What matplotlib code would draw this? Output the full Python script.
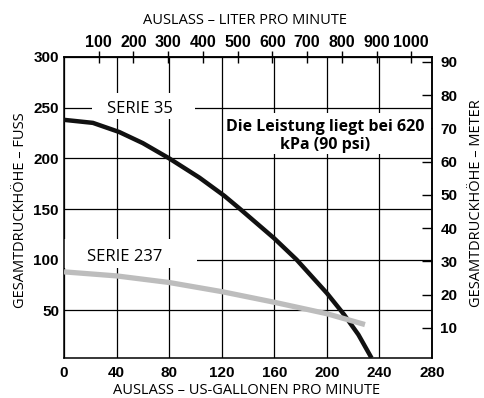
import matplotlib
matplotlib.use('Agg')
import matplotlib.pyplot as plt
from matplotlib.patches import Rectangle

# Pump performance curves: head (ft) vs. flow (US gpm)
gpm_35 = [0, 22, 42, 60, 80, 103, 122, 134, 160, 177, 200, 213, 224, 234]
ft_35 = [238, 235, 226, 215, 200, 181, 163, 150, 121, 100, 67, 46, 26, 3]

gpm_237 = [0, 40, 80, 120, 160, 200, 229]
ft_237 = [88, 84, 77.5, 68.5, 58, 46.7, 36]

gpm_ticks = [0, 40, 80, 120, 160, 200, 240, 280]
ft_ticks = [50, 100, 150, 200, 250, 300]
lpm_ticks = [100, 200, 300, 400, 500, 600, 700, 800, 900, 1000]
m_ticks = [10, 20, 30, 40, 50, 60, 70, 80, 90]

GAL_L = 3.785
FT_M = 0.3048

W, H = 484, 398
fig = plt.figure(figsize=(W / 100, H / 100), dpi=100)
ax = fig.add_axes([64 / W, 1 - 358 / H, 368 / W, 301 / H])

label_font = 'Open Sans'
tick_font = 'Liberation Sans'


def style_ticklabels(labels, size=11):
    for lab in labels:
        lab.set_fontfamily(tick_font)
        lab.set_fontweight('bold')
        lab.set_fontsize(size)


ax.set_xlim(0, 280)
ax.set_ylim(3, 300)
ax.set_xticks(gpm_ticks)
ax.set_yticks(ft_ticks)
ax.tick_params(length=0)
ax.tick_params(axis='y', pad=3.6)
ax.tick_params(axis='x', pad=6)
style_ticklabels(ax.get_xticklabels() + ax.get_yticklabels())

ax.set_axisbelow(True)
ax.grid(True, color='black', linewidth=0.9)
for sp in ax.spines.values():
    sp.set_linewidth(1.1)

# secondary scales: liters/min on top, meters on the right
top = ax.secondary_xaxis('top', functions=(lambda g: g * GAL_L, lambda l: l / GAL_L))
top.set_xticks(lpm_ticks)
top.tick_params(direction='inout', length=8.5, width=1, pad=0.5)
style_ticklabels(top.get_xticklabels(), 11.5)

right = ax.secondary_yaxis('right', functions=(lambda f: f * FT_M, lambda m: m / FT_M))
right.set_yticks(m_ticks)
right.tick_params(direction='in', length=7, width=1, pad=6)
style_ticklabels(right.get_yticklabels())
for a in (top, right):
    for sp in a.spines.values():
        sp.set_linewidth(1.1)

# white backgrounds behind the labels
for x0, y0, w, h in [(21, 239, 79, 25), (0, 92, 101, 28), (123, 204, 156, 41)]:
    ax.add_patch(Rectangle((x0, y0), w, h, facecolor='white', edgecolor='none', zorder=1.5))

ax.plot(gpm_35, ft_35, color='#111111', linewidth=3.2, zorder=3,
        solid_capstyle='butt', solid_joinstyle='round')
ax.plot(gpm_237, ft_237, color='#bdbdbd', linewidth=3.8, zorder=3,
        solid_capstyle='butt', solid_joinstyle='round')

ax.text(58, 249, 'SERIE 35', fontsize=12, family=label_font, ha='center', va='center', zorder=4)
ax.text(46, 103, 'SERIE 237', fontsize=12, family=label_font, ha='center', va='center', zorder=4)
ax.text(199, 222, 'Die Leistung liegt bei 620\nkPa (90 psi)', fontsize=11.5, family=label_font,
        fontweight='bold', ha='center', va='center', linespacing=1.1, zorder=4)

fig.text(245 / W, 1 - 21 / H, 'AUSLASS – LITER PRO MINUTE', fontsize=10.5,
         family=label_font, ha='center', va='center')
fig.text(247 / W, 1 - 391 / H, 'AUSLASS – US-GALLONEN PRO MINUTE', fontsize=10.5,
         family=label_font, ha='center', va='center')
fig.text(21 / W, 1 - 210 / H, 'GESAMTDRUCKHÖHE – FUSS', fontsize=10.5,
         family=label_font, rotation=90, ha='center', va='center')
fig.text(476 / W, 1 - 203 / H, 'GESAMTDRUCKHÖHE – METER', fontsize=10.5,
         family=label_font, rotation=90, ha='center', va='center')

fig.savefig('out.png', dpi=100)
